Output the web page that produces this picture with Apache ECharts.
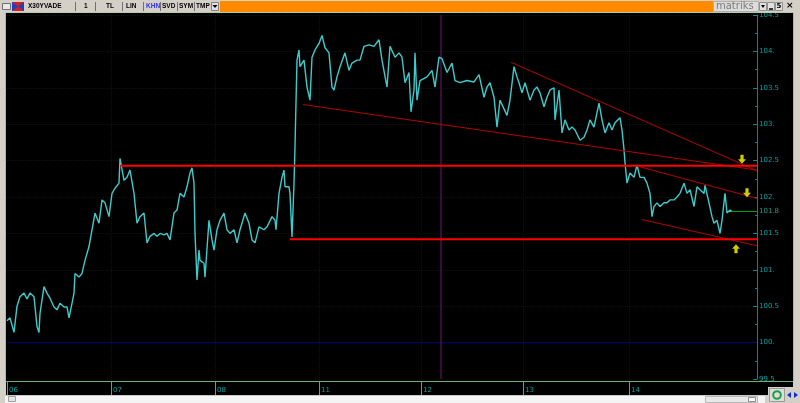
<!DOCTYPE html>
<html><head><meta charset="utf-8">
<script src="https://cdn.jsdelivr.net/npm/echarts@6/dist/echarts.min.js"></script>
<style>html,body{margin:0;padding:0;background:#d4d0c8;overflow:hidden}#c{width:800px;height:403px}</style>
</head><body><div id="c"></div>
<script>
// ---- data ----
const dayLabels = ['06','07','08','11','12','13','14'];
const dayStartBars = [0,104,208,312,414,516,622];
const lastBar = 750;
const yMin = 99.5, yMax = 104.5, yStep = 0.5;

const priceBars = [0,3,7,10,13,17,20,23,27,30,32,33,37,40,43,47,50,53,57,60,62,65,67,68,72,75,78,82,85,88,92,95,98,102,105,108,112,113,117,120,123,127,130,133,137,140,143,147,150,153,157,160,163,167,170,173,177,180,183,185,187,188,190,192,193,197,198,202,205,207,210,213,217,220,223,227,230,233,238,242,245,248,252,257,260,265,268,269,272,275,277,278,282,283,285,287,288,289,290,292,293,297,300,303,305,308,312,315,318,322,325,327,330,333,338,342,345,350,353,357,362,367,372,375,380,383,388,392,395,398,402,404,407,408,410,413,420,425,428,432,435,440,445,448,453,460,467,472,477,480,483,487,490,493,497,500,503,507,510,512,515,518,523,527,530,533,537,540,543,547,548,552,555,558,562,565,568,573,577,580,583,587,592,595,598,602,605,608,613,615,617,618,620,623,627,630,633,637,640,643,645,647,650,653,657,660,663,667,670,673,677,680,683,687,690,693,697,698,702,705,707,710,713,715,718,720,723,725];
const priceValues = [100.30,100.34,100.14,100.50,100.63,100.68,100.60,100.68,100.63,100.22,100.14,100.40,100.77,100.68,100.61,100.49,100.45,100.54,100.49,100.49,100.34,100.54,100.68,100.95,100.90,100.95,101.13,101.32,101.55,101.78,101.64,101.96,101.92,101.73,102.05,102.12,102.19,102.53,102.23,102.27,102.37,102.05,101.64,101.73,101.78,101.37,101.46,101.50,101.46,101.50,101.48,101.50,101.41,101.78,101.82,102.05,102.00,102.14,102.33,102.40,102.19,101.50,100.86,101.27,101.13,101.09,100.90,101.68,101.41,101.27,101.55,101.68,101.78,101.55,101.50,101.55,101.37,101.55,101.78,101.64,101.41,101.37,101.59,101.55,101.59,101.73,101.68,101.55,102.05,102.27,102.37,102.14,102.14,102.05,101.45,102.19,102.69,103.30,103.88,104.02,103.79,103.88,103.51,103.33,103.92,104.02,104.11,104.22,104.05,103.98,103.51,103.47,103.65,103.79,103.98,103.74,103.84,103.88,103.88,104.07,104.09,104.07,104.16,103.88,103.51,104.07,103.92,103.98,103.92,103.57,103.71,103.17,103.47,103.98,103.33,103.60,103.65,103.74,103.51,103.92,103.90,103.71,103.84,103.60,103.57,103.60,103.58,103.68,103.37,103.51,103.57,103.37,102.96,103.33,103.21,103.12,103.33,103.79,103.65,103.57,103.43,103.57,103.33,103.47,103.51,103.43,103.24,103.37,103.47,103.50,103.06,103.47,102.88,103.06,102.92,102.96,102.92,102.78,102.82,102.92,103.06,102.96,103.29,103.06,102.88,103.02,102.92,103.02,103.09,102.92,102.65,102.47,102.19,102.33,102.27,102.44,102.27,102.27,102.19,102.05,101.73,101.87,101.92,101.87,101.92,101.92,101.96,101.96,102.00,102.05,102.19,102.05,102.10,101.87,102.14,102.10,102.05,102.16,101.92,101.73,101.64,101.68,101.50,101.68,102.05,101.78,101.82,101.80];

const resistanceLine = [[113,102.43],[750,102.43]];
const supportLine    = [[283,101.42],[750,101.42]];
const trendLong      = [[296,103.27],[750,102.37]];
const trendUpper     = [[504,103.85],[750,102.36]];
const channelTop     = [[626,102.44],[750,101.98]];
const channelBottom  = [[635,101.69],[750,101.33]];
const baseLine       = [[0,100.0],[750,100.0]];
const cursorLine     = [[434,99.5],[434,104.5]];
const lastPrice      = 101.8;
const lastPriceFrom  = 724;
const downArrows     = [[735,102.52],[740,102.06]];
const upArrows       = [[729,101.29]];

// ---- build ----
const categories = Array.from({length:lastBar+1},(_,i)=>{const k=dayStartBars.indexOf(i);return k>=0?dayLabels[k]:'';});
const isDay = (i)=>categories[i]!=='';
const priceData = priceBars.map((b,i)=>[b,priceValues[i]]);

const teal = '#00a4a4';
const chart = echarts.init(document.getElementById('c'), null, {renderer:'canvas'});

function seg(data,color,width,z){return {type:'line',data:data,showSymbol:false,symbol:'none',lineStyle:{color:color,width:width},itemStyle:{color:color},z:z,silent:true,animation:false};}

const arrowPath = 'path://M3,0L7,0L7,5L10,5L5,10L0,5L3,5Z';
const tbFont = 'bold 6.5px "Liberation Sans"';

chart.setOption({
  animation:false,
  backgroundColor:'#d4d0c8',
  grid:{left:7,right:43,top:15,bottom:24,containLabel:false},
  xAxis:{type:'category',data:categories,boundaryGap:false,offset:3,
    axisLine:{show:false},
    axisTick:{show:true,interval:(i)=>isDay(i),length:13,lineStyle:{color:'#8a8a8a'}},
    axisLabel:{interval:(i)=>isDay(i),color:teal,fontSize:7,fontFamily:'DejaVu Sans',align:'left',margin:5,padding:[0,0,0,2]},
    splitLine:{show:true,interval:(i)=>isDay(i)&&i>0,lineStyle:{color:'#00008a',type:'dotted',width:1}}
  },
  yAxis:{type:'value',position:'right',min:yMin,max:yMax,interval:yStep,
    axisLine:{show:true,lineStyle:{color:'#008c8c'}},
    axisTick:{show:true,inside:true,length:4,lineStyle:{color:'#008c8c'}},
    minorTick:{show:true,splitNumber:2,length:2,lineStyle:{color:'#008c8c'}},
    axisLabel:{color:teal,fontSize:7,fontFamily:'DejaVu Sans',margin:2,formatter:(v)=>Number.isInteger(v)?v+'.':String(v)},
    splitLine:{show:true,lineStyle:{color:'#00008a',type:'dotted',width:1}}
  },
  graphic:[
    {type:'rect',z:-100,shape:{x:6,y:13,width:787,height:368},style:{fill:'#000000'}},
    {type:'rect',z:-100,shape:{x:6,y:381,width:787,height:14},style:{fill:'#000000'}},
    {type:'rect',z:50,shape:{x:5.5,y:12.5,width:788,height:369},style:{fill:null,stroke:'#8ccc8c',lineWidth:1}},
    {type:'line',z:50,shape:{x1:6,y1:381.5,x2:793,y2:381.5},style:{stroke:'#70b070',lineWidth:1}},
    // toolbar
    {type:'rect',z:100,shape:{x:0,y:0,width:800,height:12.5},style:{fill:'#d4d0c8'}},
    {type:'rect',z:101,shape:{x:2.5,y:3.5,width:8,height:6},style:{fill:'#e8e8e8',stroke:'#707070'}},
    {type:'rect',z:101,shape:{x:12,y:2,width:12,height:9},style:{fill:'#d02020'}},
    {type:'polygon',z:102,shape:{points:[[12,2],[18,6.5],[12,11]]},style:{fill:'#2040c0'}},
    {type:'polygon',z:102,shape:{points:[[24,2],[18,6.5],[24,11]]},style:{fill:'#2040c0'}},
    {type:'text',z:103,style:{text:'X30YVADE',x:28,y:6.5,verticalAlign:'middle',font:tbFont,fill:'#000'}},
    {type:'text',z:103,style:{text:'1',x:84,y:6.5,verticalAlign:'middle',font:tbFont,fill:'#000'}},
    {type:'text',z:103,style:{text:'TL',x:106,y:6.5,verticalAlign:'middle',font:tbFont,fill:'#000'}},
    {type:'text',z:103,style:{text:'LIN',x:126,y:6.5,verticalAlign:'middle',font:tbFont,fill:'#000'}},
    {type:'text',z:103,style:{text:'KHN',x:146,y:6.5,verticalAlign:'middle',font:tbFont,fill:'#3030ff'}},
    {type:'text',z:103,style:{text:'SVD',x:162,y:6.5,verticalAlign:'middle',font:tbFont,fill:'#000'}},
    {type:'text',z:103,style:{text:'SYM',x:179,y:6.5,verticalAlign:'middle',font:tbFont,fill:'#000'}},
    {type:'text',z:103,style:{text:'TMP',x:196,y:6.5,verticalAlign:'middle',font:tbFont,fill:'#000'}},
    {type:'line',z:103,shape:{x1:75.5,y1:2,x2:75.5,y2:11},style:{stroke:'#707070'}},
    {type:'line',z:103,shape:{x1:95.5,y1:2,x2:95.5,y2:11},style:{stroke:'#707070'}},
    {type:'line',z:103,shape:{x1:122.5,y1:2,x2:122.5,y2:11},style:{stroke:'#707070'}},
    {type:'line',z:103,shape:{x1:143.5,y1:2,x2:143.5,y2:11},style:{stroke:'#707070'}},
    {type:'line',z:103,shape:{x1:160.5,y1:2,x2:160.5,y2:11},style:{stroke:'#707070'}},
    {type:'line',z:103,shape:{x1:177.5,y1:2,x2:177.5,y2:11},style:{stroke:'#707070'}},
    {type:'line',z:103,shape:{x1:194.5,y1:2,x2:194.5,y2:11},style:{stroke:'#707070'}},
    {type:'rect',z:103,shape:{x:211.5,y:2.5,width:7,height:8},style:{fill:'#e0e0e0',stroke:'#808080'}},
    {type:'polygon',z:104,shape:{points:[[212.5,5],[217.5,5],[215,8]]},style:{fill:'#000'}},
    {type:'rect',z:103,shape:{x:220,y:1,width:493,height:11},style:{fill:'#ff8a00'}},
    {type:'rect',z:103,shape:{x:713.5,y:1.5,width:45,height:10},style:{fill:'#dcdcdc',stroke:'#b0b0b0'}},
    {type:'text',z:104,style:{text:'matriks',x:716,y:6.5,verticalAlign:'middle',font:'10px "DejaVu Sans"',fill:'#7a7a7a'}},
    {type:'rect',z:103,shape:{x:759.5,y:2.5,width:7,height:8},style:{fill:'#e0e0e0',stroke:'#909090'}},
    {type:'polygon',z:104,shape:{points:[[761,5],[765,5],[763,8]]},style:{fill:'#000'}},
    {type:'rect',z:103,shape:{x:767.5,y:2.5,width:7,height:8},style:{fill:'#e0e0e0',stroke:'#909090'}},
    {type:'line',z:104,shape:{x1:769,y1:9,x2:773,y2:9},style:{stroke:'#000',lineWidth:1.5}},
    {type:'rect',z:103,shape:{x:775.5,y:2.5,width:7,height:8},style:{fill:'#e0e0e0',stroke:'#909090'}},
    {type:'text',z:104,style:{text:'5',x:776.5,y:6.5,verticalAlign:'middle',font:'bold 7px "DejaVu Sans"',fill:'#000'}},
    {type:'text',z:104,style:{text:'×',x:786,y:6,verticalAlign:'middle',font:'bold 9px "DejaVu Sans"',fill:'#000'}},
    // bottom scrollbar
    {type:'rect',z:100,shape:{x:5,y:395,width:760,height:8},style:{fill:'#f4f4f4'}},
    {type:'line',z:101,shape:{x1:5,y1:395.5,x2:765,y2:395.5},style:{stroke:'#c8c8c8'}},
    {type:'rect',z:101,shape:{x:8.5,y:396.5,width:7,height:5},style:{fill:'#e4e4e4',stroke:'#a0a0a0'}},
    {type:'rect',z:101,shape:{x:705.5,y:396.5,width:52,height:6},style:{fill:'#e8e8e8',stroke:'#b8b8b8'}},
    {type:'rect',z:101,shape:{x:748.5,y:397.5,width:7,height:4},style:{fill:'#f8f8f8',stroke:'#909090'}},
    {type:'rect',z:100,shape:{x:768,y:387,width:32,height:16},style:{fill:'#d4d0c8'}},
    {type:'rect',z:101,shape:{x:769.5,y:388.5,width:15,height:13},style:{fill:'#dcdcdc',stroke:'#9a9a9a'}},
    {type:'circle',z:102,shape:{cx:777,cy:395,r:3.8},style:{fill:null,stroke:'#1aa040',lineWidth:2}},
    {type:'polygon',z:102,shape:{points:[[787,395],[791,392],[791,398]]},style:{fill:'#1030d0'}},
    {type:'polygon',z:102,shape:{points:[[798,395],[794,392],[794,398]]},style:{fill:'#1030d0'}}
  ],
  series:[
    seg(baseLine,'#000080',1,1),
    seg(cursorLine,'#3a0c3a',2,1),
    {type:'line',data:priceData,showSymbol:false,symbol:'none',lineStyle:{color:'#3ccccc',width:1.4},z:3,animation:false,silent:true},
    seg(trendLong,'#b80000',1,4),
    seg(trendUpper,'#b80000',1,4),
    seg(channelTop,'#b80000',1,4),
    seg(channelBottom,'#b80000',1,4),
    seg(resistanceLine,'#ff0000',2,5),
    seg(supportLine,'#ff0000',2,5),
    {type:'line',data:[],silent:true,z:5,
      markLine:{silent:true,symbol:'none',animation:false,
        lineStyle:{color:'#00a000',width:1,type:'solid'},
        label:{show:true,position:'end',formatter:String(lastPrice),color:'#20a080',fontSize:7,fontFamily:'DejaVu Sans',distance:2},
        data:[[{coord:[lastPriceFrom,lastPrice]},{coord:[lastBar,lastPrice]}]]}},
    {type:'scatter',data:downArrows,symbol:arrowPath,symbolSize:[8,9],itemStyle:{color:'#ffff00'},z:6,silent:true,animation:false},
    {type:'scatter',data:upArrows,symbol:arrowPath,symbolSize:[8,9],symbolRotate:180,itemStyle:{color:'#ffff00'},z:6,silent:true,animation:false}
  ]
});
</script></body></html>
